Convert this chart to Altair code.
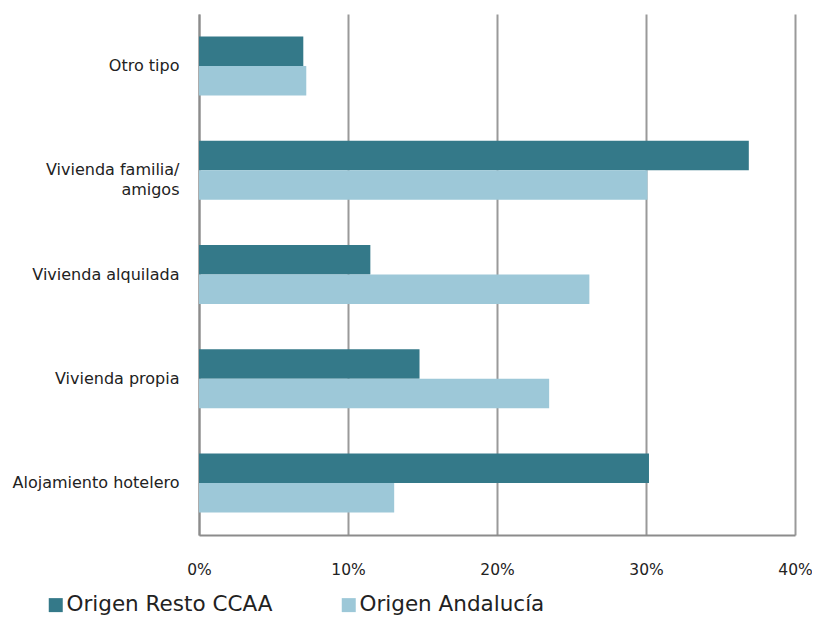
import altair as alt
import pandas as pd

categorias = ["Otro tipo", "Vivienda familia/ amigos", "Vivienda alquilada",
              "Vivienda propia", "Alojamiento hotelero"]
series = ["Origen Resto CCAA", "Origen Andalucía"]
resto = [0.070, 0.369, 0.115, 0.148, 0.302]
andalucia = [0.072, 0.301, 0.262, 0.235, 0.131]
ticks = [0, 0.1, 0.2, 0.3, 0.4]
colores = ["#347989", "#9DC8D8"]

rows = []
for c, r, a in zip(categorias, resto, andalucia):
    rows.append({"categoria": c, "serie": series[0], "valor": r})
    rows.append({"categoria": c, "serie": series[1], "valor": a})
df = pd.DataFrame(rows)

FONT = "DejaVu Sans"

chart = alt.Chart(df).mark_bar().encode(
    x=alt.X("valor:Q",
            scale=alt.Scale(domain=[0, 0.4], nice=False),
            axis=alt.Axis(format=".0%", values=ticks, title=None, ticks=False,
                          labelPadding=27, labelFlush=False, grid=True,
                          gridColor="#9a9a9a", gridWidth=2,
                          domainColor="#8c8c8c", domainWidth=2,
                          labelFont=FONT, labelFontSize=15.5, labelColor="#222222")),
    y=alt.Y("categoria:N", sort=categorias,
            scale=alt.Scale(paddingInner=0.434, paddingOuter=0.217),
            axis=alt.Axis(title=None, ticks=False, grid=False, labelPadding=20,
                          domainColor="#8c8c8c", domainWidth=2,
                          labelFont=FONT, labelFontSize=16, labelColor="#222222",
                          labelLineHeight=20, labelLimit=300,
                          labelExpr="datum.label == 'Vivienda familia/ amigos' ? ['Vivienda familia/', 'amigos'] : datum.label")),
    yOffset=alt.YOffset("serie:N", sort=series),
    color=alt.Color("serie:N",
                    scale=alt.Scale(domain=series, range=colores),
                    legend=alt.Legend(title=None, orient="none", legendX=-154, legendY=580,
                                      direction="horizontal", symbolType="square",
                                      symbolSize=196, symbolStrokeWidth=0,
                                      labelFont=FONT, labelFontSize=21.5, labelColor="#222222",
                                      columnPadding=65, labelOffset=0, padding=0,
                                      labelLimit=400)),
).properties(
    width=596, height=521,
    autosize=alt.AutoSizeParams(type="none"),
    padding={"left": 191, "top": 6, "right": 17, "bottom": 92},
).configure_view(stroke=None)

chart.save("out.html", embed_options={"renderer": "svg", "actions": False})
